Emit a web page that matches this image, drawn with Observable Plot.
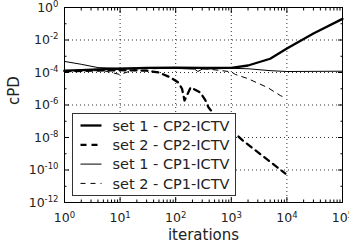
<!DOCTYPE html>
<html><head><meta charset="utf-8">
<script src="https://cdn.jsdelivr.net/npm/d3@7"></script>
<script src="https://cdn.jsdelivr.net/npm/@observablehq/plot@0.6"></script>
<style>body{margin:0;background:#fff} #chart svg{font-family:"DejaVu Sans",sans-serif;}</style>
</head><body><div id="chart"></div>
<script>
// ---- data ----
const set1CP2Iter = [1, 2, 5, 10, 30, 100, 300, 1000, 2000, 5000, 10000, 30000, 100000];
const set1CP2Val  = [1.3e-4, 1.4e-4, 1.6e-4, 1.7e-4, 1.9e-4, 2.0e-4, 1.9e-4, 1.9e-4, 2.7e-4, 7e-4, 3e-3, 2.5e-2, 2e-1];

const set2CP2Iter = [1, 3, 10, 30, 50, 80, 110, 130, 144, 160, 185, 206, 278, 343, 390, 480, 1600, 9400];
const set2CP2Val  = [1.2e-4, 1.3e-4, 1.4e-4, 1.3e-4, 1e-4, 5e-5, 2.5e-5, 1e-5, 1.9e-6, 4e-6, 1.2e-5, 1e-5, 5.9e-6, 1.9e-6, 7e-7, 3e-7, 6.6e-9, 6e-11];

const set1CP1Iter = [1, 2, 4, 10, 30, 100, 220, 250, 300, 1000, 2000, 5000, 10000, 100000];
const set1CP1Val  = [4.8e-4, 3.2e-4, 2e-4, 1.8e-4, 1.8e-4, 1.8e-4, 1.6e-4, 1.15e-4, 1.6e-4, 1.8e-4, 1.7e-4, 1.3e-4, 1.15e-4, 1.2e-4];

const set2CP1Iter = [1, 3, 5, 10, 20, 30, 100, 300, 1000, 1180, 1950, 4470, 7650, 9000];
const set2CP1Val  = [1.2e-4, 1.3e-4, 1.3e-4, 7.5e-5, 1.7e-4, 1.7e-4, 1.8e-4, 1.8e-4, 1.1e-4, 7.6e-5, 4.3e-5, 1.2e-5, 3.8e-6, 3e-6];

const legendLabels = ["set 1 - CP2-ICTV", "set 2 - CP2-ICTV", "set 1 - CP1-ICTV", "set 2 - CP1-ICTV"];
const xLabel = "iterations";
const yLabel = "cPD";

const xMajorTicks = [1, 10, 100, 1e3, 1e4, 1e5];
const xGridTicks  = [10, 100, 1e3, 1e4];
const yMajorTicks = [1, 1e-2, 1e-4, 1e-6, 1e-8, 1e-10, 1e-12];
const yGridTicks  = [1e-2, 1e-4, 1e-6, 1e-8, 1e-10];
const yMinorTicks = [1e-1, 1e-3, 1e-5, 1e-7, 1e-9, 1e-11];
const xMinorTicks = [];
for (const d of [1, 10, 100, 1e3, 1e4]) for (let m = 2; m <= 9; m++) xMinorTicks.push(d * m);

// ---- build table ----
const styles = [
  {w: 2.3, dash: null},
  {w: 2.3, dash: "6,5"},
  {w: 1, dash: null},
  {w: 1, dash: "5,5"}
];
const seriesIters = [set1CP2Iter, set2CP2Iter, set1CP1Iter, set2CP1Iter];
const seriesVals  = [set1CP2Val, set2CP2Val, set1CP1Val, set2CP1Val];
const rows = [];
seriesIters.forEach((its, s) => its.forEach((it, i) => rows.push({s, it, v: seriesVals[s][i]})));

const expFmt = d => "10^" + Math.round(Math.log10(d));

function legendMark() {
  const g = d3.create("svg:g");
  const bx = 72.5, by = 113.5, bw = 163, bh = 82;
  g.append("rect").attr("x", bx).attr("y", by).attr("width", bw).attr("height", bh)
    .attr("fill", "#fff").attr("stroke", "#333").attr("stroke-width", 1);
  legendLabels.forEach((lab, i) => {
    const yy = by + 12 + i * 19.3;
    g.append("line").attr("x1", bx + 8).attr("x2", bx + 29).attr("y1", yy).attr("y2", yy)
      .attr("stroke", "#000").attr("stroke-width", styles[i].w)
      .attr("stroke-dasharray", styles[i].dash);
    g.append("text").attr("x", bx + 40).attr("y", yy).attr("dy", "0.36em")
      .attr("text-anchor", "start")
      .attr("font-size", 14.5).attr("fill", "#222").text(lab);
  });
  return g.node();
}

const chart = Plot.plot({
  width: 349, height: 247,
  marginLeft: 64, marginRight: 7, marginTop: 7, marginBottom: 45,
  style: {fontFamily: "DejaVu Sans", background: "#fff"},
  x: {type: "log", domain: [1, 1e5]},
  y: {type: "log", domain: [1e-12, 1]},
  marks: [
    Plot.gridX(xGridTicks, {stroke: "#000", strokeOpacity: 0.8, strokeDasharray: "1,3"}),
    Plot.gridY(yGridTicks, {stroke: "#000", strokeOpacity: 0.8, strokeDasharray: "1,3"}),
    ...styles.map((st, s) => Plot.line(rows.filter(r => r.s === s), {
      x: "it", y: "v", stroke: "#000", strokeWidth: st.w, strokeDasharray: st.dash, curve: "linear"
    })),
    Plot.axisX({ticks: xMajorTicks, tickSize: 0, tickPadding: 11, tickFormat: expFmt, fontSize: 12.5, fill: "#222", label: null}),
    Plot.axisY({ticks: yMajorTicks, tickSize: 0, tickPadding: 6, tickFormat: expFmt, fontSize: 12.5, fill: "#222", label: null}),
    Plot.axisX({anchor: "bottom", ticks: xMajorTicks, tickSize: -5, tickFormat: () => "", label: null}),
    Plot.axisX({anchor: "top", ticks: xMajorTicks, tickSize: -5, tickFormat: () => "", label: null}),
    Plot.axisX({anchor: "bottom", ticks: xMinorTicks, tickSize: -2.5, tickFormat: () => "", label: null}),
    Plot.axisX({anchor: "top", ticks: xMinorTicks, tickSize: -2.5, tickFormat: () => "", label: null}),
    Plot.axisY({anchor: "left", ticks: yMajorTicks, tickSize: -5, tickFormat: () => "", label: null}),
    Plot.axisY({anchor: "right", ticks: yMajorTicks, tickSize: -5, tickFormat: () => "", label: null}),
    Plot.axisY({anchor: "left", ticks: yMinorTicks, tickSize: -2.5, tickFormat: () => "", label: null}),
    Plot.axisY({anchor: "right", ticks: yMinorTicks, tickSize: -2.5, tickFormat: () => "", label: null}),
    Plot.frame({stroke: "#000", strokeWidth: 1}),
    Plot.text([xLabel], {frameAnchor: "bottom", dy: 33, lineAnchor: "middle", fontSize: 15, fill: "#222"}),
    Plot.text([yLabel], {frameAnchor: "left", dx: -50, rotate: -90, lineAnchor: "middle", fontSize: 15, fill: "#222"}),
    legendMark
  ]
});

// superscript exponents
const ns = "http://www.w3.org/2000/svg";
chart.querySelectorAll("text").forEach(t => {
  const s = t.textContent;
  if (!s.startsWith("10^")) return;
  const e = s.slice(3);
  t.textContent = "10";
  const ts = document.createElementNS(ns, "tspan");
  ts.setAttribute("dy", "-0.55em");
  ts.setAttribute("font-size", "8.5");
  ts.textContent = e;
  t.appendChild(ts);
});
document.getElementById("chart").appendChild(chart);
</script>
</body></html>
